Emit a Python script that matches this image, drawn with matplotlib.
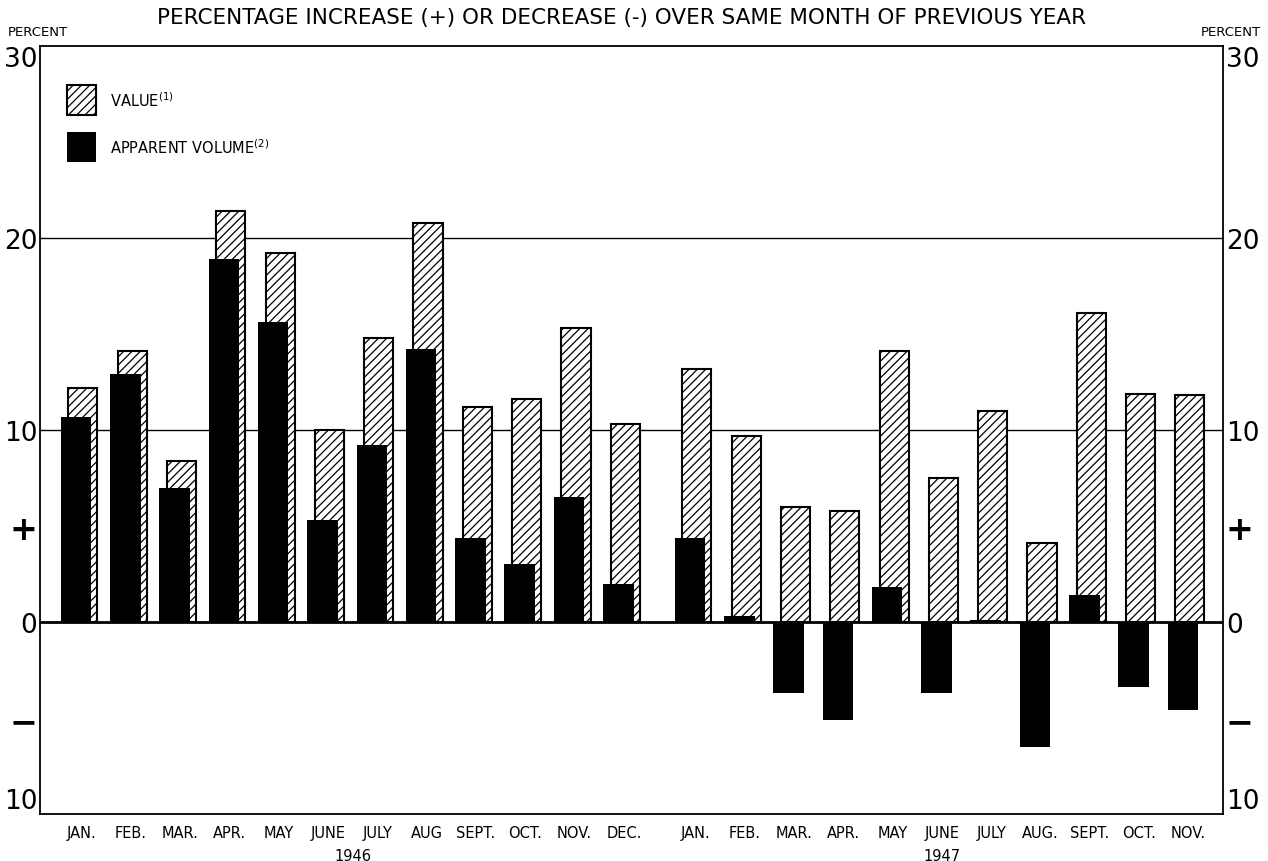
import numpy as np
import matplotlib.pyplot as plt

# months and positions (1947 set shifted to leave a gap after Dec 1946)
months_1946 = ['JAN.', 'FEB.', 'MAR.', 'APR.', 'MAY', 'JUNE', 'JULY', 'AUG', 'SEPT.', 'OCT.', 'NOV.', 'DEC.']
months_1947 = ['JAN.', 'FEB.', 'MAR.', 'APR.', 'MAY', 'JUNE', 'JULY', 'AUG.', 'SEPT.', 'OCT.', 'NOV.']

value_1946 = [12.2, 14.1, 8.4, 21.4, 19.2, 10.0, 14.8, 20.8, 11.2, 11.6, 15.3, 10.3]
value_1947 = [13.2, 9.7, 6.0, 5.8, 14.1, 7.5, 11.0, 4.1, 16.1, 11.9, 11.8]
volume_1946 = [10.7, 12.9, 7.0, 18.9, 15.6, 5.3, 9.2, 14.2, 4.4, 3.0, 6.5, 2.0]
volume_1947 = [4.4, 0.3, -3.7, -5.1, 1.8, -3.7, 0.1, -6.5, 1.4, -3.4, -4.6]

ytick_vals = [30, 20, 10, 5, 0, -5, -10]
ytick_labels = ['30', '20', '10', '+', '0', '\u2212', '10']

plt.rcParams['font.family'] = 'DejaVu Sans'
plt.rcParams['hatch.linewidth'] = 0.9

x46 = np.arange(len(months_1946))
x47 = np.arange(len(months_1947)) + 12.45
x = np.concatenate([x46, x47])
values = np.array(value_1946 + value_1947)
volumes = np.array(volume_1946 + volume_1947)
labels = months_1946 + months_1947

fig = plt.figure(figsize=(12.68, 8.62), dpi=100)
ax = fig.add_axes([0.0315, 0.0545, 0.933, 0.891])

ax.axhline(10, color='black', lw=1.0, zorder=1)
ax.axhline(20, color='black', lw=1.0, zorder=1)

ax.bar(x + 0.03, values, width=0.59, facecolor='white', edgecolor='black',
       hatch='////', linewidth=1.5, zorder=2)
ax.bar(x - 0.11, volumes, width=0.62, color='black', zorder=3)
ax.axhline(0, color='black', lw=2.0, zorder=4)

ax.set_xlim(-0.84, 23.15)
ax.set_ylim(-10, 30)

ax.set_yticks(ytick_vals)
ax.set_yticklabels(ytick_labels, fontsize=19)
ax.tick_params(axis='y', length=0, pad=2, left=True, right=True,
               labelleft=True, labelright=True)
for side in [ax.yaxis.get_major_ticks()]:
    pass
for t in ax.yaxis.get_major_ticks():
    for lab in (t.label1, t.label2):
        txt = lab.get_text()
        if txt in ('+', '\u2212'):
            lab.set_fontweight('bold')
            lab.set_fontsize(24)
ticks = ax.yaxis.get_major_ticks()
ticks[0].label1.set_va('top')
ticks[0].label2.set_va('top')
ticks[-1].label1.set_va('bottom')
ticks[-1].label2.set_va('bottom')

ax.set_xticks(x)
ax.set_xticklabels(labels, fontsize=10.5)
ax.tick_params(axis='x', length=0, pad=8)

for sp in ax.spines.values():
    sp.set_linewidth(1.3)

# year labels
ax.text(np.mean(x46), -12.15, '1946', ha='center', va='center', fontsize=10.5)
ax.text(np.mean(x47), -12.15, '1947', ha='center', va='center', fontsize=10.5)

# headers
fig.text(0.49, 0.979, 'PERCENTAGE INCREASE (+) OR DECREASE (-) OVER SAME MONTH OF PREVIOUS YEAR',
         ha='center', va='center', fontsize=15.5)
fig.text(0.006, 0.962, 'PERCENT', ha='left', va='center', fontsize=9.5)
fig.text(0.994, 0.962, 'PERCENT', ha='right', va='center', fontsize=9.5)

# legend drawn as boxes in data space
ax.bar(0.0, 1.56, width=0.59, bottom=26.41, facecolor='white', edgecolor='black',
       hatch='////', linewidth=1.5, zorder=2)
ax.bar(0.0, 1.56, width=0.59, bottom=23.96, color='black', zorder=2)
ax.text(0.58, 27.19, 'VALUE$^{(1)}$', ha='left', va='center', fontsize=10.5)
ax.text(0.58, 24.74, 'APPARENT VOLUME$^{(2)}$', ha='left', va='center', fontsize=10.5)

fig.savefig('out.png', dpi=100)
